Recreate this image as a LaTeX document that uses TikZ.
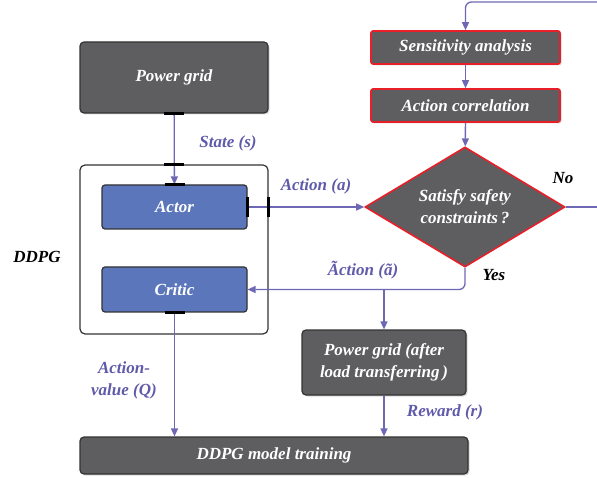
\documentclass[tikz,border=0pt]{standalone}
\usepackage{fontspec}
\setmainfont{Liberation Serif}
\usetikzlibrary{calc,positioning,arrows.meta,shapes,shadows}
\definecolor{boxgray}{RGB}{94,94,97}
\definecolor{actblue}{RGB}{91,118,186}
\definecolor{flowc}{RGB}{110,104,180}
\definecolor{lblc}{RGB}{95,90,170}
\definecolor{redline}{RGB}{232,30,40}

\begin{document}
\begin{tikzpicture}[x=1pt,y=-1pt,
  font=\fontsize{17}{22}\selectfont\bfseries\itshape,
  blk/.style={draw=black!80,fill=boxgray,text=white,rounded corners=4pt,line width=1.2pt,align=center,
    drop shadow={shadow xshift=1.5pt,shadow yshift=-1.5pt,opacity=.3}},
  redblk/.style={blk,draw=redline,line width=1.6pt,rounded corners=2pt},
  ac/.style={draw=black!80,fill=actblue,text=white,rounded corners=3pt,line width=1.2pt},
  flow/.style={-{Triangle[length=8pt,width=7pt]},flowc,line width=1.3pt},
  lbl/.style={text=lblc,align=center},
  cpoint/.style={line width=2.5pt,black}]
  \useasboundingbox (0,0) rectangle (597,478);

  % left column
  \node[blk,minimum width=188pt,minimum height=71pt] (pg) at (174,77.5) {Power grid};
  \node[draw=black!80,fill=white,rounded corners=5pt,line width=1.2pt,minimum width=188pt,minimum height=169pt] (ddpg) at (174,249.5) {};
  \node[ac,minimum width=145pt,minimum height=44pt] (actor) at (174.5,207) {Actor};
  \node[ac,minimum width=145pt,minimum height=45pt] (critic) at (174.5,289.5) {Critic};
  \node (lddpg) at (37,257) {DDPG};

  % right column
  \node[redblk,minimum width=189pt,minimum height=33pt] (sens) at (465.5,47.5) {Sensitivity analysis};
  \node[redblk,minimum width=189pt,minimum height=33pt] (corr) at (465.5,105.5) {Action correlation};
  \node[diamond,draw=redline,fill=boxgray,text=white,line width=1.6pt,align=center,aspect=1.667,
    minimum width=200pt,minimum height=120pt,inner sep=0pt] (dia) at (465,207) {Satisfy safety\\constraints\,?};
  \node[blk,minimum width=164pt,minimum height=65pt] (pg2) at (384,362.5) {Power grid (after\\load transferring\,)};
  \node[blk,minimum width=388pt,minimum height=37pt] (train) at (274,455.5) {DDPG model training};

  \coordinate (fb) at (597,2);
  \coordinate (noend) at (597,207);

  % connectors
  \draw[flow] (pg) -- (actor);
  \draw[flow] (actor.east) -- (dia.west);
  \draw[flow,rounded corners=6pt] (fb) -| (sens.north);
  \draw[flow] (sens) -- (corr);
  \draw[flow] (corr) -- (dia);
  \draw[flowc,line width=1.3pt] (dia.east) -- (noend);
  \draw[flow,rounded corners=6pt] (dia.south) |- (critic.east);
  \draw[flow] (pg2.north |- critic.east) -- (pg2.north);
  \draw[flow] (pg2) -- (pg2 |- train.north);
  \draw[flow] (critic) -- (critic |- train.north);

  % connection points
  \draw[cpoint] ($(pg.south)+(-10,0)$) -- ($(pg.south)+(10,0)$);
  \draw[cpoint] ($(ddpg.north)+(-10,0)$) -- ($(ddpg.north)+(10,0)$);
  \draw[cpoint] ($(actor.north)+(-10,0)$) -- ($(actor.north)+(10,0)$);
  \draw[cpoint] ($(actor.east)+(0,-10)$) -- ($(actor.east)+(0,10)$);
  \draw[cpoint] ($(ddpg.east |- actor.east)+(0,-10)$) -- ($(ddpg.east |- actor.east)+(0,10)$);
  \draw[cpoint] ($(critic.south)+(-10,0)$) -- ($(critic.south)+(10,0)$);

  % labels
  \node[lbl] (lstate) at (228,143) {State (s)};
  \node[lbl] (laction) at (316,186) {Action (a)};
  \node (lno) at (563,178) {No};
  \node[lbl] (ltilde) at (363,270) {\~{A}ction (\~{a})};
  \node (lyes) at (494,275) {Yes};
  \node[lbl] (lq) at (124,380) {Action-\\value (Q)};
  \node[lbl] (lreward) at (445,412) {Reward (r)};
\end{tikzpicture}
\end{document}
